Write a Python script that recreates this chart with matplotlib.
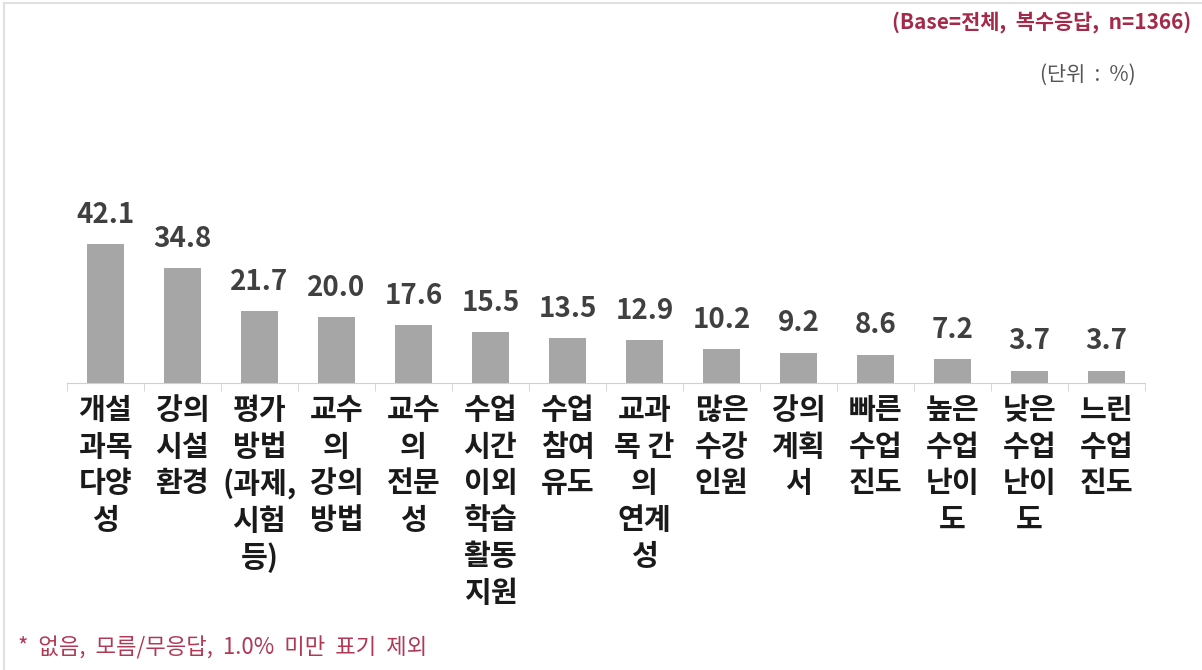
import matplotlib.pyplot as plt
from matplotlib.lines import Line2D

# --------------------------------------------
# Data
# --------------------------------------------
categories = [
    "개설\n과목\n다양\n성",
    "강의\n시설\n환경",
    "평가\n방법\n(과제,\n시험\n등)",
    "교수\n의\n강의\n방법",
    "교수\n의\n전문\n성",
    "수업\n시간\n이외\n학습\n활동\n지원",
    "수업\n참여\n유도",
    "교과\n목 간\n의\n연계\n성",
    "많은\n수강\n인원",
    "강의\n계획\n서",
    "빠른\n수업\n진도",
    "높은\n수업\n난이\n도",
    "낮은\n수업\n난이\n도",
    "느린\n수업\n진도",
]
values = [42.1, 34.8, 21.7, 20.0, 17.6, 15.5, 13.5, 12.9, 10.2, 9.2, 8.6, 7.2, 3.7, 3.7]

base_note = "(Base=전체,  복수응답,  n=1366)"
unit_note = "(단위  :  %)"
foot_note = "*  없음,  모름/무응답,  1.0%  미만  표기  제외"

plt.rcParams["font.family"] = ["Noto Sans CJK KR", "DejaVu Sans"]

# --------------------------------------------
# Figure
# --------------------------------------------
fig = plt.figure(figsize=(12.02, 6.70), dpi=100)
ax = fig.add_axes([0.0557, 0.4284, 0.8969, 0.2731])

x = list(range(len(values)))
ax.bar(x, values, width=0.48, color="#a6a6a6")

for xi, v in zip(x, values):
    ax.annotate(f"{v:.1f}", (xi, v), xytext=(0, 11), textcoords="offset points",
                ha="center", va="bottom", fontsize=20, fontweight="bold",
                color="#404040")

ax.set_xlim(-0.5, len(values) - 0.5)
ax.set_ylim(0, 55.5)
ax.set_xticks(x)
ax.set_xticklabels(categories, fontsize=21, fontweight="bold",
                   color="#1a1a1a", linespacing=1.27, va="top")
ax.tick_params(axis="x", which="major", length=0, pad=9)
ax.set_xticks([i - 0.5 for i in range(len(values) + 1)], minor=True)
ax.tick_params(axis="x", which="minor", length=6, color="#d0d0d0", direction="out")
ax.set_yticks([])

for s in ["top", "right", "left"]:
    ax.spines[s].set_visible(False)
ax.spines["bottom"].set_color("#d0d0d0")

# frame lines (top / left)
fig.add_artist(Line2D([0.003, 1.0], [0.995, 0.995], transform=fig.transFigure,
                      color="#e0e0e0", linewidth=1.5))
fig.add_artist(Line2D([0.0035, 0.0035], [0.0, 0.995], transform=fig.transFigure,
                      color="#e0e0e0", linewidth=1.5))

fig.text(0.991, 0.967, base_note, ha="right", va="center", fontsize=15,
         fontweight="bold", color="#a52a4a")
fig.text(0.945, 0.888, unit_note, ha="right", va="center", fontsize=15,
         color="#555555")
fig.text(0.015, 0.033, foot_note, ha="left", va="center", fontsize=16,
         color="#b03a55")

fig.savefig("out.png", dpi=100)
